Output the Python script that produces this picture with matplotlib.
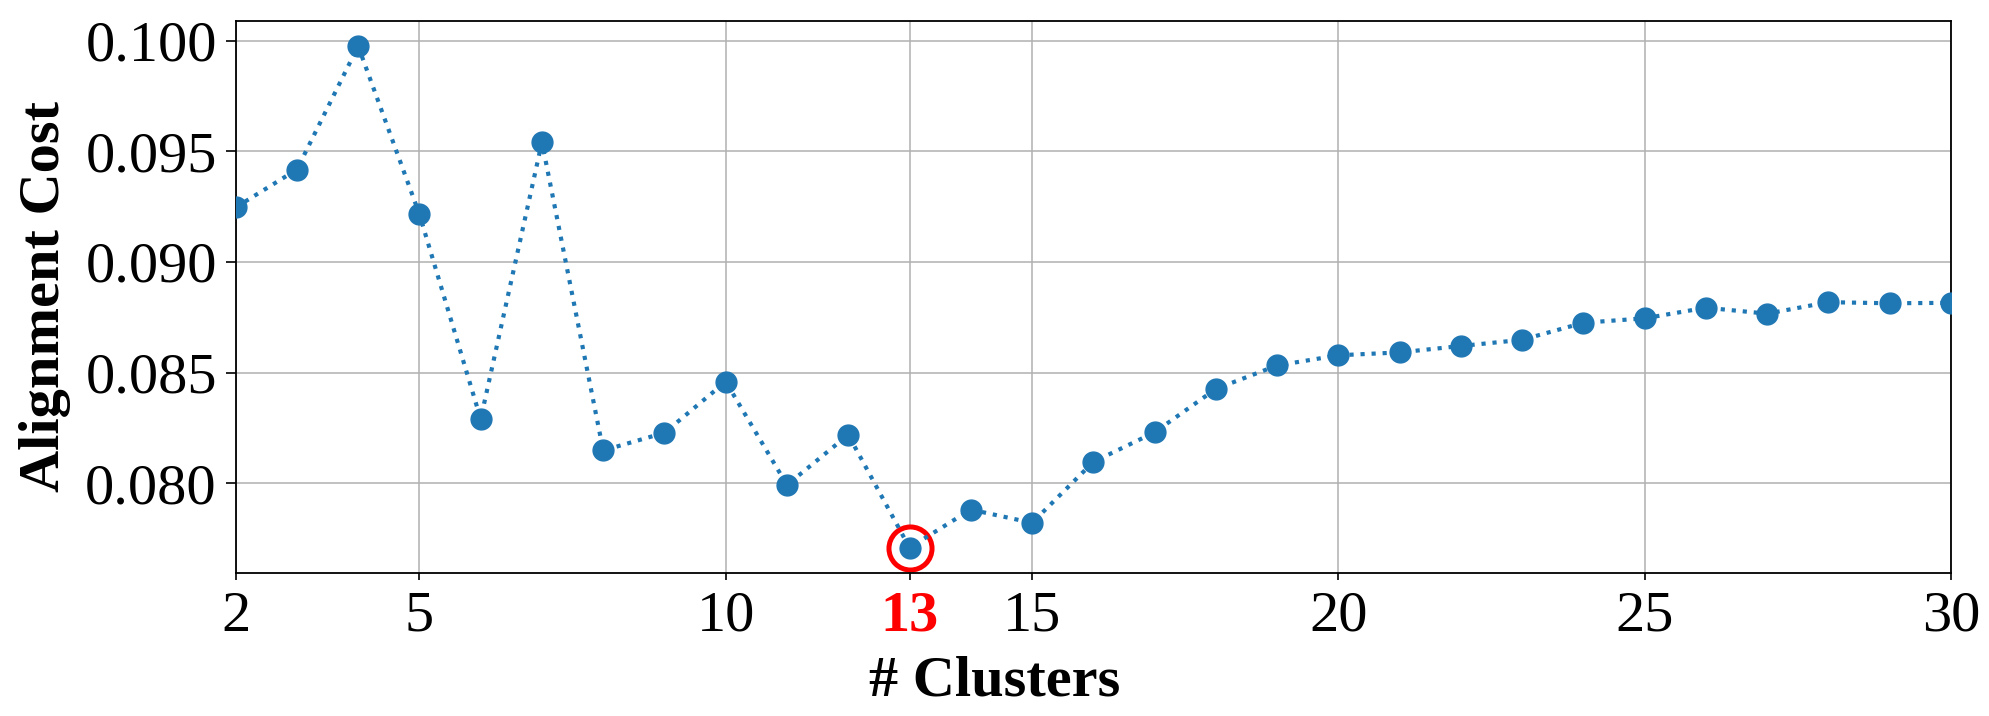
import matplotlib
matplotlib.use("Agg")
import matplotlib.pyplot as plt
from matplotlib.ticker import MultipleLocator, FormatStrFormatter

# ---- data ----
clusters = list(range(2, 31))
alignment_cost = [0.09246, 0.09417, 0.09975, 0.09215, 0.08290, 0.09541, 0.08148,
                  0.08228, 0.08459, 0.07992, 0.08219, 0.07709, 0.07881, 0.07821,
                  0.08096, 0.08230, 0.08426, 0.08532, 0.08578, 0.08591, 0.08620,
                  0.08648, 0.08725, 0.08745, 0.08793, 0.08766, 0.08818, 0.08813,
                  0.08815]
xtick_values = [2, 5, 10, 13, 15, 20, 25, 30]
xtick_labels = ["2", "5", "10", "13", "15", "20", "25", "30"]
best_k = 13
best_cost = alignment_cost[clusters.index(best_k)]

plt.rcParams['font.family'] = ['Liberation Serif', 'DejaVu Serif']

fig = plt.figure(figsize=(19.9, 7.16), dpi=100)
ax = fig.add_axes([0.1184, 0.2001, 0.9804 - 0.1184, 0.9707 - 0.2001])

ax.grid(True, color='#b0b0b0', linewidth=1.1, zorder=0)
ax.set_axisbelow(True)

# highlight ring (white fill) below the line
ax.plot([best_k], [best_cost], marker='o', markersize=31, markerfacecolor='white',
        markeredgecolor='red', markeredgewidth=3.6, linestyle='none', zorder=2)

ax.plot(clusters, alignment_cost, linestyle=':', linewidth=3.0, color='#1f77b4',
        marker='o', markersize=15, zorder=3)

ax.set_xlim(2, 30)
ax.yaxis.set_major_locator(MultipleLocator(0.005))
ax.yaxis.set_major_formatter(FormatStrFormatter('%.3f'))

ax.set_xticks(xtick_values)
ax.set_xticklabels(xtick_labels)

ax.tick_params(axis='x', labelsize=42, length=5, width=1.2, pad=8)
ax.tick_params(axis='y', labelsize=42, length=7.5, width=1.2, pad=6)

for lbl, v in zip(ax.get_xticklabels(), xtick_values):
    if v == best_k:
        lbl.set_color('red')
        lbl.set_fontweight('bold')
for tk, v in zip(ax.xaxis.get_major_ticks(), xtick_values):
    if v == best_k:
        tk.tick1line.set_color('red')

for sp in ax.spines.values():
    sp.set_linewidth(1.3)

ax.set_xlabel('# Clusters', fontsize=42, fontweight='bold', labelpad=9, x=0.4426)
ax.set_ylabel('Alignment Cost', fontsize=42, fontweight='bold', labelpad=10)

fig.savefig('out.png', dpi=100)
